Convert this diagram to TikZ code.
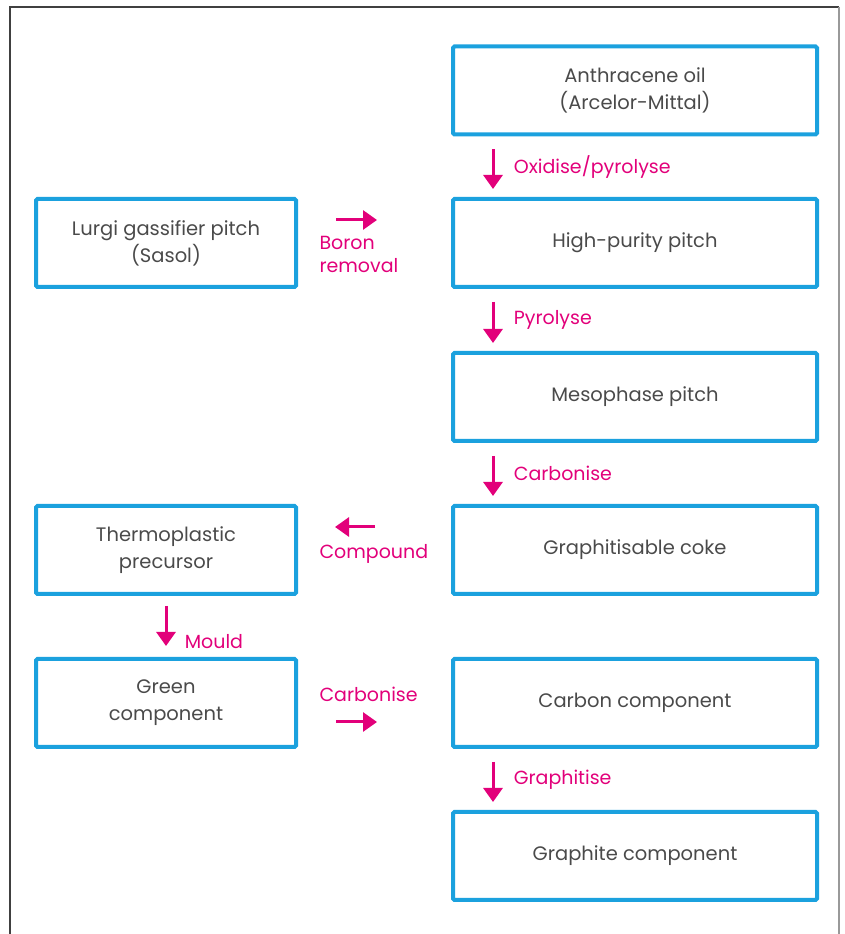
\documentclass[tikz,border=0pt]{standalone}
\usepackage{fontspec}
\setmainfont{Poppins}
\usetikzlibrary{arrows.meta,positioning,calc}
\definecolor{boxblue}{HTML}{1BA1DE}
\definecolor{flowpink}{HTML}{E2007A}
\definecolor{txtgray}{HTML}{4A4A4A}

\begin{document}
\begin{tikzpicture}[x=1pt,y=1pt,font=\fontsize{19.5}{27}\selectfont,
box/.style={draw=boxblue,line width=4pt,rounded corners=1.5pt,align=center,text=txtgray,minimum height=88pt,inner sep=3pt},
rbox/.style={box,minimum width=364pt},
lbox/.style={box,minimum width=260pt},
flow/.style={-{Triangle[width=19pt,length=14pt]},line width=3pt,draw=flowpink},
lab/.style={text=flowpink,align=left,font=\fontsize{19}{23}\selectfont}]
\useasboundingbox (0,0) rectangle (844,934);
\draw[line width=2.5pt,draw=black!75] (10,-5)--(10,927)--(839,927);
\draw[line width=1.5pt,draw=black!40] (839,927)--(839,-5);

\node[rbox] (anth) at (635,843.5) {Anthracene oil\\(Arcelor-Mittal)};
\node[rbox] (hp) at (635,691) {High-purity pitch};
\node[rbox] (meso) at (635,537) {Mesophase pitch};
\node[rbox] (coke) at (635,384) {Graphitisable coke};
\node[rbox] (carb) at (635,231) {Carbon component};
\node[rbox] (graph) at (635,78) {Graphite component};
\node[lbox] (lurgi) at (166,691) {Lurgi gassifier pitch\\(Sasol)};
\node[lbox] (thermo) at (166,384) {Thermoplastic\\precursor};
\node[lbox] (green) at (166,231) {Green\\component};

\draw[flow,shorten <=13pt,shorten >=8pt] ([xshift=42pt]anth.south west)--node[lab,right=16pt]{Oxidise/pyrolyse}([xshift=42pt]hp.north west);
\draw[flow,shorten <=13pt,shorten >=8pt] ([xshift=42pt]hp.south west)--node[lab,right=16pt]{Pyrolyse}([xshift=42pt]meso.north west);
\draw[flow,shorten <=13pt,shorten >=8pt] ([xshift=42pt]meso.south west)--node[lab,right=16pt]{Carbonise}([xshift=42pt]coke.north west);
\draw[flow,shorten <=13pt,shorten >=8pt] ([xshift=42pt]carb.south west)--node[lab,right=16pt]{Graphitise}([xshift=42pt]graph.north west);
\draw[flow,shorten <=10pt,shorten >=11pt] (thermo.south)--node[lab,right=14pt,pos=.75]{Mould}(green.north);

\draw[flow,shorten <=38pt,shorten >=74pt] ([yshift=23pt]lurgi.east)--([yshift=23pt]hp.west);
\node[lab,anchor=west] (boron) at (316,679.5) {Boron\\removal};
\draw[flow,shorten <=76pt,shorten >=37pt] ([yshift=23pt]coke.west)--([yshift=23pt]thermo.east);
\node[lab,anchor=west] (comp) at (316,380) {Compound};
\draw[flow,shorten <=38pt,shorten >=74pt] ([yshift=-19pt]green.east)--([yshift=-19pt]carb.west);
\node[lab,anchor=west] (carbon) at (316,240) {Carbonise};
\end{tikzpicture}
\end{document}
